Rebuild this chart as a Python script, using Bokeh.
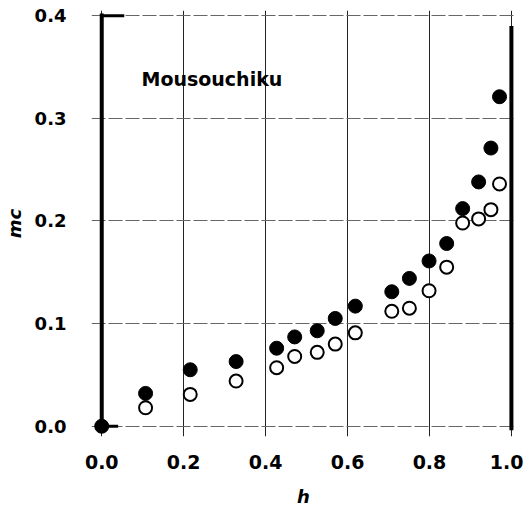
from bokeh.plotting import figure
from bokeh.models import Range1d, FixedTicker, Label
from bokeh.embed import file_html
from bokeh.resources import INLINE

# data
h_filled = [0.0, 0.107, 0.216, 0.328, 0.427, 0.471, 0.526, 0.570, 0.619, 0.708, 0.751, 0.799, 0.842, 0.881, 0.920, 0.950, 0.971]
mc_filled = [0.0, 0.032, 0.055, 0.063, 0.076, 0.087, 0.093, 0.105, 0.117, 0.131, 0.144, 0.161, 0.178, 0.212, 0.238, 0.271, 0.321]
h_open = [0.107, 0.216, 0.328, 0.427, 0.471, 0.526, 0.570, 0.619, 0.708, 0.751, 0.799, 0.842, 0.881, 0.920, 0.950, 0.971]
mc_open = [0.018, 0.031, 0.044, 0.057, 0.068, 0.072, 0.080, 0.091, 0.112, 0.115, 0.132, 0.155, 0.198, 0.202, 0.211, 0.236]
x_ticks = [0.0, 0.2, 0.4, 0.6, 0.8, 1.0]
y_ticks = [0.0, 0.1, 0.2, 0.3, 0.4]
x_tick_labels = {0.0: "0.0", 0.2: "0.2", 0.4: "0.4", 0.6: "0.6", 0.8: "0.8", 1.0: "1.0"}
y_tick_labels = {0.0: "0.0", 0.1: "0.1", 0.2: "0.2", 0.3: "0.3", 0.4: "0.4"}
annotation = "Mousouchiku"

FONT = "DejaVu Sans"

p = figure(width=523, height=509, output_backend="svg", toolbar_location=None,
           x_range=Range1d(-0.025, 1.01), y_range=Range1d(-0.01, 0.405),
           min_border_left=88, min_border_right=8, min_border_top=10, min_border_bottom=73)
p.outline_line_color = None
p.background_fill_color = "white"

for ax in (p.xaxis[0], p.yaxis[0]):
    ax.axis_line_color = None
    ax.major_tick_line_color = None
    ax.minor_tick_line_color = None
    ax.major_label_text_font = FONT
    ax.major_label_text_font_style = "bold"
    ax.major_label_text_color = "black"
    ax.axis_label_text_font = FONT
    ax.axis_label_text_font_style = "bold italic"
    ax.axis_label_text_font_size = "18px"
    ax.axis_label_text_color = "black"

p.xaxis.major_label_text_font_size = "19px"
p.yaxis.major_label_text_font_size = "18px"
p.xaxis.ticker = FixedTicker(ticks=x_ticks)
p.yaxis.ticker = FixedTicker(ticks=y_ticks)
p.xaxis.major_label_overrides = x_tick_labels
p.yaxis.major_label_overrides = y_tick_labels
p.xaxis.major_label_standoff = 12
p.yaxis.major_label_standoff = 19
p.xaxis.axis_label = "h"
p.yaxis.axis_label = "mc"
p.xaxis.axis_label_standoff = 14
p.yaxis.axis_label_standoff = 7

p.xgrid.grid_line_color = "#222222"
p.xgrid.grid_line_width = 1
p.ygrid.grid_line_color = "#666666"
p.ygrid.grid_line_width = 1
p.ygrid.grid_line_dash = "14 3"

# frame decorations (thick axis lines)
p.segment(x0=[0.0, 0.0, 0.0, 1.0], y0=[-0.001, 0.4, 0.0, -0.004],
          x1=[0.0, 0.055, 0.04, 1.0], y1=[0.402, 0.4, 0.0, 0.39],
          line_color="black", line_width=[4, 3, 3, 4])

p.scatter(h_filled, mc_filled, size=14, fill_color="black", line_color="black", line_width=1)
p.scatter(h_open, mc_open, size=13, fill_color="white", line_color="black", line_width=2)

p.add_layout(Label(x=0.097, y=0.338, text=annotation, text_font=FONT, text_font_style="bold",
                   text_font_size="19px", text_baseline="middle", text_color="black"))

open("out.html", "w").write(file_html(p, INLINE))
